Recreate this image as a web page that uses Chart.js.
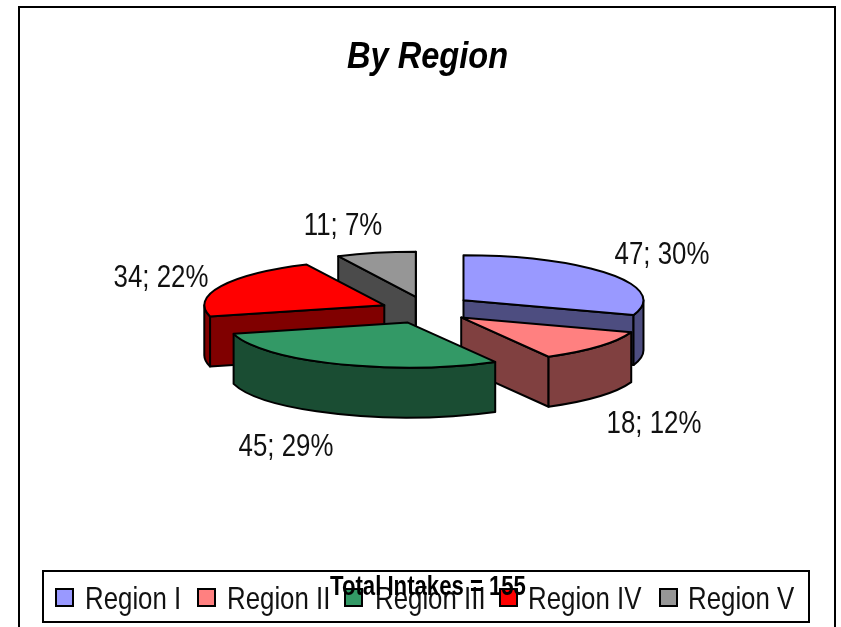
<!DOCTYPE html>
<html><head><meta charset="utf-8">
<style>html,body{margin:0;padding:0;background:#fff}canvas{display:block}</style>
<script src="https://cdn.jsdelivr.net/npm/chart.js@4"></script>
</head><body>
<div style="width:841px;height:627px"><canvas id="c" width="841" height="627"></canvas></div>
<script>
const categories = ['Region I','Region II','Region III','Region IV','Region V'];
const intakes = [47,18,45,34,11];
const percents = [30,12,29,22,7];
const topColors = ['#9999FF','#FF8080','#339966','#FF0000','#969696'];
const wallColors = ['#4D4D80','#804040','#1A4D33','#800000','#4B4B4B'];
const titleText = 'By Region';
const totalText = 'Total Intakes = 155';

// view settings for the tilted pie
const squash = 0.25, depth = 50, centreX = 426, centreY = 309, explode = 46;
const liftY = [-2,1,3,1,-1];
const paintOrder = [4,3,0,1,2];
const labelPos = [[662,255.5],[654,424.5],[286,447.5],[161,278.5],[343,226.5]];
const legendBoxX = [56,198,345,500,660];
const legendTextX = [85,227,375,528,688];
const SANS = '"Liberation Sans",Arial,sans-serif';

function narrowText(ctx,text,x,y,font,align,sx,color){
  ctx.save();
  ctx.font = font; ctx.textAlign = align; ctx.textBaseline = 'middle'; ctx.fillStyle = color||'#111';
  ctx.translate(x,y); ctx.scale(sx||0.82,1);
  ctx.fillText(text,0,0);
  ctx.restore();
}

const tilted = {
  id:'tilted',
  beforeDatasetsDraw(chart){
    const ctx = chart.ctx, arcs = chart.getDatasetMeta(0).data;
    ctx.save();
    ctx.lineWidth = 2; ctx.strokeStyle = '#000'; ctx.lineJoin = 'round';
    paintOrder.forEach(i=>{
      const a = arcs[i], R = a.outerRadius;
      const mid = (a.startAngle+a.endAngle)/2;
      const ax = centreX+Math.cos(mid)*explode, ay = centreY+liftY[i]+Math.sin(mid)*explode*squash;
      const px = t=>ax+R*Math.cos(t), py = t=>ay+R*squash*Math.sin(t);
      const plane = t=>{
        ctx.beginPath();ctx.moveTo(ax,ay);ctx.lineTo(px(t),py(t));
        ctx.lineTo(px(t),py(t)+depth);ctx.lineTo(ax,ay+depth);ctx.closePath();
        ctx.fillStyle = wallColors[i];ctx.fill();ctx.stroke();
      };
      // a radial wall faces the viewer when it is turned toward the front of the pie
      if(Math.cos(a.startAngle)<0) plane(a.startAngle);
      if(Math.cos(a.endAngle)>-1e-6) plane(a.endAngle);
      const s = Math.max(a.startAngle,0), e = Math.min(a.endAngle,Math.PI);
      if(e>s){
        ctx.beginPath();
        ctx.ellipse(ax,ay,R,R*squash,0,s,e);
        ctx.lineTo(px(e),py(e)+depth);
        ctx.ellipse(ax,ay+depth,R,R*squash,0,e,s,true);
        ctx.closePath();
        ctx.fillStyle = wallColors[i];ctx.fill();ctx.stroke();
      }
      // top face through the library's arc element
      ctx.save();
      ctx.translate(ax,ay);ctx.scale(1,squash);ctx.translate(-a.x,-a.y);
      a.draw(ctx);
      ctx.restore();
      ctx.beginPath();ctx.moveTo(ax,ay);
      ctx.ellipse(ax,ay,R,R*squash,0,a.startAngle,a.endAngle);
      ctx.closePath();ctx.stroke();
    });
    ctx.restore();
    return false;
  },
  afterDraw(chart){
    const ctx = chart.ctx;
    ctx.save();
    ctx.strokeStyle='#000';ctx.lineWidth=2;
    ctx.strokeRect(19,7,816,625);
    ctx.strokeRect(43,571,766,51);
    narrowText(ctx,titleText,427.5,58,'italic bold 36px '+SANS,'center',0.905,'#000');
    categories.forEach((_,i)=>narrowText(ctx,intakes[i]+'; '+percents[i]+'%',labelPos[i][0],labelPos[i][1],'31.5px '+SANS,'center'));
    categories.forEach((name,i)=>{
      ctx.fillStyle=topColors[i];
      ctx.fillRect(legendBoxX[i],589,17,17);
      ctx.strokeRect(legendBoxX[i],589,17,17);
      narrowText(ctx,name,legendTextX[i],600,'31.5px '+SANS,'left');
    });
    narrowText(ctx,totalText,428,587.5,'bold 27px '+SANS,'center',0.82,'#000');
    ctx.restore();
  }
};

new Chart(document.getElementById('c'),{
  type:'pie',
  data:{labels:categories,datasets:[{data:intakes,backgroundColor:topColors,borderWidth:0}]},
  options:{
    responsive:false,animation:false,radius:180,
    events:[],
    plugins:{tooltip:{enabled:false},title:{display:false},legend:{display:false}}
  },
  plugins:[tilted]
});
</script>
</body></html>
